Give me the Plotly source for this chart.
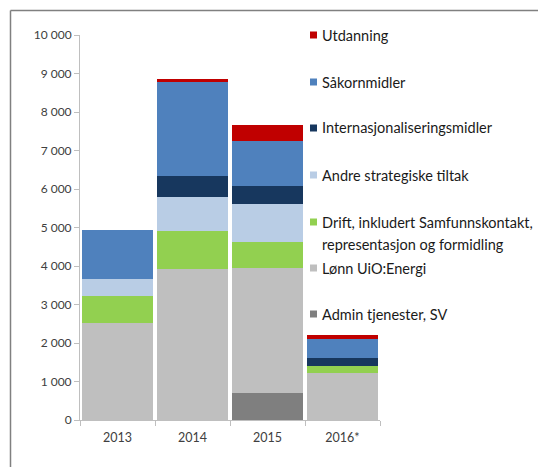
import plotly.graph_objects as go

years = ["2013", "2014", "2015", "2016*"]
series_names = ["Admin tjenester, SV", "Lønn UiO:Energi",
                "Drift, inkludert Samfunnskontakt, representasjon og formidling",
                "Andre strategiske tiltak", "Internasjonaliseringsmidler",
                "Såkornmidler", "Utdanning"]
admin = [0, 0, 695, 0]
lonn = [2530, 3925, 3265, 1215]
drift = [700, 985, 675, 200]
andre = [430, 890, 970, 0]
internasjonal = [0, 535, 470, 185]
sakorn = [1270, 2435, 1175, 500]
utdanning = [0, 100, 425, 115]
colors = ["#7F7F7F", "#BFBFBF", "#92D050", "#B9CDE5", "#17375E", "#4F81BD", "#C00000"]
values = [admin, lonn, drift, andre, internasjonal, sakorn, utdanning]
y_ticks = [0, 1000, 2000, 3000, 4000, 5000, 6000, 7000, 8000, 9000, 10000]
y_tick_labels = ["0", "1 000", "2 000", "3 000", "4 000", "5 000", "6 000", "7 000", "8 000", "9 000", "10 000"]

FONT = "Lato"
fig = go.Figure()
for name, vals, col in zip(series_names, values, colors):
    fig.add_trace(go.Bar(x=years, y=vals, name=name, marker=dict(color=col, line=dict(width=0)),
                         showlegend=False))

OFF = 8  # page body margin
L, R, T, B = 80 - OFF, 380 - OFF, 35 - OFF, 420 - OFF
W, H = 538, 459
def px(x):
    return (x - OFF - L) / (R - L)
def py(y):
    return (B - (y - OFF)) / (B - T)

fig.update_layout(
    width=W, height=H, barmode="stack", bargap=0.06,
    margin=dict(l=L, r=W - R, t=T, b=H - B),
    plot_bgcolor="white", paper_bgcolor="white",
    font=dict(family=FONT, size=12, color="#404040"),
    xaxis=dict(showline=True, linecolor="#BFBFBF", linewidth=1, ticks="outside",
               tickson="boundaries", ticklen=5, tickcolor="#BFBFBF", ticklabelstandoff=6,
               tickfont=dict(size=12.5, color="#404040")),
    yaxis=dict(range=[0, 10000], tickvals=y_ticks, ticktext=y_tick_labels, showgrid=False,
               showline=True, linecolor="#BFBFBF", linewidth=1, ticks="outside", ticklen=5,
               tickcolor="#BFBFBF", zeroline=False, tickfont=dict(size=12, color="#404040")),
)

# legend (custom, matches layout of reference)
legend_items = [
    ("Utdanning", 35, colors[6]),
    ("Såkornmidler", 82, colors[5]),
    ("Internasjonaliseringsmidler", 128, colors[4]),
    ("Andre strategiske tiltak", 175, colors[3]),
    ("Drift, inkludert Samfunnskontakt,", 222, colors[2]),
    ("Lønn UiO:Energi", 268, colors[1]),
    ("Admin tjenester, SV", 314, colors[0]),
]
for text, yc, col in legend_items:
    fig.add_shape(type="rect", xref="paper", yref="paper", x0=px(310), x1=px(317),
                  y0=py(yc + 3.5), y1=py(yc - 3.5), fillcolor=col, line=dict(width=0))
    fig.add_annotation(text=text, xref="paper", yref="paper", x=px(320), y=py(yc),
                       xanchor="left", yanchor="middle", showarrow=False,
                       font=dict(family=FONT, size=14.5, color="#1A1A1A"))
fig.add_annotation(text="representasjon og formidling", xref="paper", yref="paper", x=px(320), y=py(244),
                   xanchor="left", yanchor="middle", showarrow=False,
                   font=dict(family=FONT, size=14.5, color="#1A1A1A"))

# outer frame
fig.add_shape(type="line", xref="paper", yref="paper", x0=px(10.5), x1=px(10.5), y0=py(480), y1=py(10.5),
              line=dict(color="#808080", width=1.5))
fig.add_shape(type="line", xref="paper", yref="paper", x0=px(10.5), x1=px(560), y0=py(10.5), y1=py(10.5),
              line=dict(color="#808080", width=1.5))

fig.write_html("out.html")
